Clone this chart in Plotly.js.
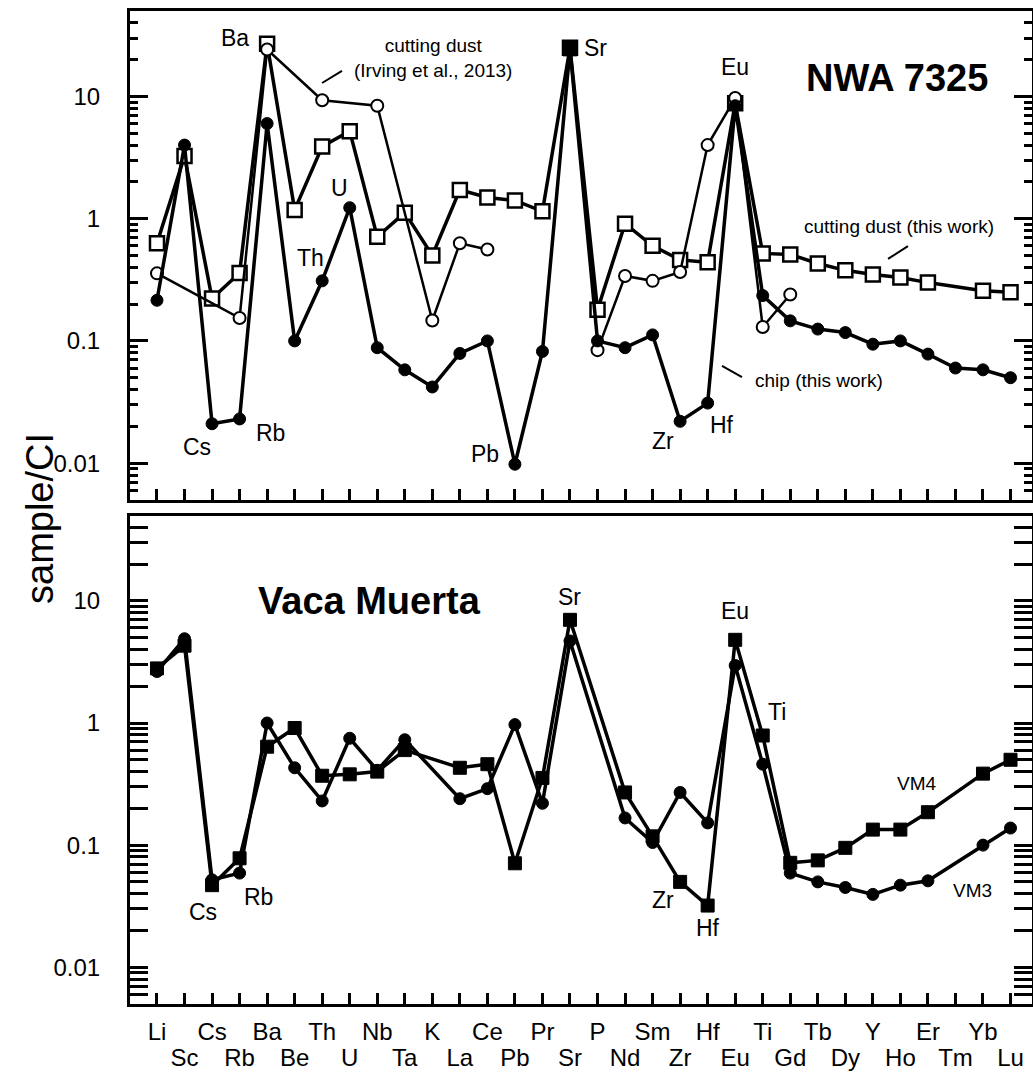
<!DOCTYPE html>
<html><head><meta charset="utf-8">
<script src="https://cdn.plot.ly/plotly-3.0.1.min.js"></script>
<style>html,body{margin:0;padding:0;background:#fff}#chart{width:1033px;height:1073px}</style>
</head><body><div id="chart"></div>
<script>
// ---- categories (x axis) ----
const elements = ['Li','Sc','Cs','Rb','Ba','Be','Th','U','Nb','Ta','K','La','Ce','Pb','Pr','Sr','P','Nd','Sm','Zr','Hf','Eu','Ti','Gd','Tb','Dy','Y','Ho','Er','Tm','Yb','Lu'];

// ---- NWA 7325 (upper panel) ----
const chipValues = [0.215,4.0,0.021,0.023,6.0,0.1,0.31,1.23,0.088,0.058,0.042,0.079,0.1,0.0098,0.082,24.5,0.1,0.088,0.112,0.022,0.031,8.4,0.235,0.146,0.125,0.117,0.094,0.1,0.078,0.06,0.058,0.05];
const dustValues = [0.63,3.25,0.222,0.36,27,1.18,3.9,5.2,0.71,1.12,0.5,1.72,1.49,1.41,1.15,25,0.18,0.91,0.6,0.46,0.44,8.8,0.52,0.51,0.43,0.378,0.35,0.33,0.30,null,0.257,0.25];
const irvingElements = ['Li','Rb','Ba','Th','Nb','K','La','Ce',null,'P','Nd','Sm','Zr','Hf','Eu','Ti','Gd'];
const irvingValues = [0.357,0.154,24.2,9.3,8.4,0.147,0.63,0.56,null,0.084,0.34,0.31,0.366,4.0,9.7,0.13,0.24];

// ---- Vaca Muerta (lower panel) ----
const vm4Values = [2.8,4.3,0.047,0.078,0.64,0.91,0.37,0.38,0.40,0.60,null,0.43,0.46,0.071,0.355,7.0,null,0.27,0.118,0.05,0.032,4.8,0.79,0.0716,0.075,0.095,0.134,0.134,0.186,null,0.385,0.5];
const vm3Values = [2.64,4.9,0.052,0.059,1.0,0.43,0.23,0.75,0.41,0.73,null,0.24,0.29,0.97,0.22,4.7,null,0.167,0.105,0.27,0.152,2.96,0.46,0.059,0.05,0.045,0.0395,0.047,0.051,null,0.10,0.138];

// ---- y tick labels ----
const yTickValues = [0.01,0.1,1,10];
const yTickLabels = ['0.01','0.1','1','10'];

const F = 'Liberation Sans, Arial, sans-serif';
const idx = elements.map((_, i) => i);
const irvingX = irvingElements.map(e => e === null ? null : elements.indexOf(e));
const minorVals = [];
[0.001,0.01,0.1,1,10].forEach(d => { for (let k = 2; k <= 9; k++) minorVals.push(+(k*d).toPrecision(3)); });

const traces = [
  {x: idx, y: dustValues, xaxis:'x2', yaxis:'y2', mode:'lines+markers', connectgaps:true,
   line:{color:'#000', width:3.5},
   marker:{symbol:'square', size:14, color:'#fff', opacity:1, line:{color:'#000', width:2.5}}},
  {x: irvingX, y: irvingValues, xaxis:'x2', yaxis:'y2', mode:'lines+markers', connectgaps:false,
   line:{color:'#000', width:2.5},
   marker:{symbol:'circle', size:12, color:'#fff', opacity:1, line:{color:'#000', width:2}}},
  {x: idx, y: chipValues, xaxis:'x2', yaxis:'y2', mode:'lines+markers',
   line:{color:'#000', width:3.5},
   marker:{symbol: elements.map(e => e === 'Sr' ? 'square' : 'circle'), size: elements.map(e => e === 'Sr' ? 14 : 12),
           color:'#000', opacity:1, line:{color:'#000', width:1}}},
  {x: idx, y: vm4Values, xaxis:'x', yaxis:'y', mode:'lines+markers', connectgaps:true,
   line:{color:'#000', width:3.5},
   marker:{symbol:'square', size:13, color:'#000', opacity:1, line:{color:'#000', width:1}}},
  {x: idx, y: vm3Values, xaxis:'x', yaxis:'y', mode:'lines+markers', connectgaps:true,
   line:{color:'#000', width:3.5},
   marker:{symbol:'circle', size:12, color:'#000', opacity:1, line:{color:'#000', width:1}}},
  {x: [], y: [], xaxis:'x3', yaxis:'y', mode:'markers', hoverinfo:'skip'}
];

const xr = [-0.98, 31.78];
const yr = [Math.log10(0.005), Math.log10(50)];
function yAxis(domain) {
  return {domain: domain, type:'log', range: yr, tickmode:'array', tickvals: yTickValues, ticktext: yTickLabels,
    ticks:'inside', ticklen:18, tickwidth:3, tickcolor:'#000', showline:true, linewidth:3, linecolor:'#000',
    mirror:'allticks', showgrid:false, zeroline:false, tickfont:{family:F, size:24, color:'#000'}, ticklabelstandoff:22,
    minor:{tickmode:'array', tickvals: minorVals, ticks:'inside', ticklen:8, tickwidth:3, tickcolor:'#000', showgrid:false}};
}
function xAxis(anchor, labels) {
  return {anchor: anchor, domain:[0,1], range: xr, tickmode:'array', tickvals: idx,
    ticktext: labels ? elements.map((e, i) => i % 2 === 0 ? e : '') : elements.map(() => ''),
    showticklabels: !!labels,
    ticks:'inside', ticklen:11, tickwidth:3, tickcolor:'#000', showline:true, linewidth:3, linecolor:'#000',
    mirror:true, showgrid:false, zeroline:false, tickfont:{family:F, size:24, color:'#000'}, ticklabelstandoff:4};
}

function ann(text, x, y, size, extra) {
  return Object.assign({text: text, xref:'paper', yref:'paper', x: x, y: y, xanchor:'center', yanchor:'middle',
    showarrow:false, font:{family:F, size:size, color:'#000'}}, extra || {});
}
const annotations = [
  ann('sample/CI', -0.0998, 0.4894, 38, {textangle:-90}),
  ann('<b>NWA 7325</b>', 0.8503, 0.9325, 38),
  ann('<b>Vaca Muerta</b>', 0.2650, 0.4058, 38),
  ann('Ba', 0.1164, 0.9728, 23),
  ann('Sr', 0.5166, 0.9627, 23),
  ann('Eu', 0.6707, 0.9436, 23),
  ann('U', 0.2328, 0.8218, 23),
  ann('Th', 0.1996, 0.7513, 23),
  ann('Cs', 0.0739, 0.5612, 23),
  ann('Rb', 0.1560, 0.5747, 23),
  ann('Pb', 0.3936, 0.5539, 23),
  ann('Zr', 0.5913, 0.5673, 23),
  ann('Hf', 0.6560, 0.5831, 23),
  ann('cutting dust<br>(Irving et al., 2013)', 0.3359, 0.9522, 19),
  ann('cutting dust (this work)', 0.8531, 0.7825, 19),
  ann('chip (this work)', 0.7639, 0.6274, 19),
  ann('Sr', 0.4878, 0.4101, 23),
  ann('Eu', 0.6707, 0.3961, 23),
  ann('Ti', 0.7169, 0.2944, 23),
  ann('VM4', 0.8722, 0.2222, 19),
  ann('VM3', 0.9338, 0.1148, 19),
  ann('Cs', 0.0813, 0.0930, 23),
  ann('Rb', 0.1423, 0.1081, 23),
  ann('Zr', 0.5906, 0.1047, 23),
  ann('Hf', 0.6405, 0.0762, 23)
];
function seg(x0, y0, x1, y1) {
  return {type:'line', xref:'paper', yref:'paper', x0:x0, y0:y0, x1:x1, y1:y1, line:{color:'#000', width:2}};
}
const shapes = [
  seg(0.2129, 0.9275, 0.2350, 0.9396),
  seg(0.8404, 0.7503, 0.8625, 0.7633),
  seg(0.6563, 0.6425, 0.6785, 0.6314)
];

const layout = {
  width:1033, height:1073, margin:{l:130, r:1, t:11, b:69},
  paper_bgcolor:'#fff', plot_bgcolor:'#fff', showlegend:false,
  font:{family:F, color:'#000'},
  xaxis: xAxis('y', true),
  xaxis2: Object.assign(xAxis('y2', false), {matches:'x'}),
  xaxis3: {overlaying:'x', anchor:'y', side:'bottom', range: xr, tickmode:'array',
    tickvals: idx.filter(i => i % 2 === 1), ticktext: elements.filter((e, i) => i % 2 === 1),
    ticks:'', showline:false, showgrid:false, zeroline:false, tickfont:{family:F, size:24, color:'#000'}, ticklabelstandoff:37},
  yaxis: yAxis([0, 0.4919]),
  yaxis2: yAxis([0.5076, 1]),
  annotations: annotations,
  shapes: shapes
};

Plotly.newPlot('chart', traces, layout, {staticPlot:true, displayModeBar:false});
</script>
</body></html>
